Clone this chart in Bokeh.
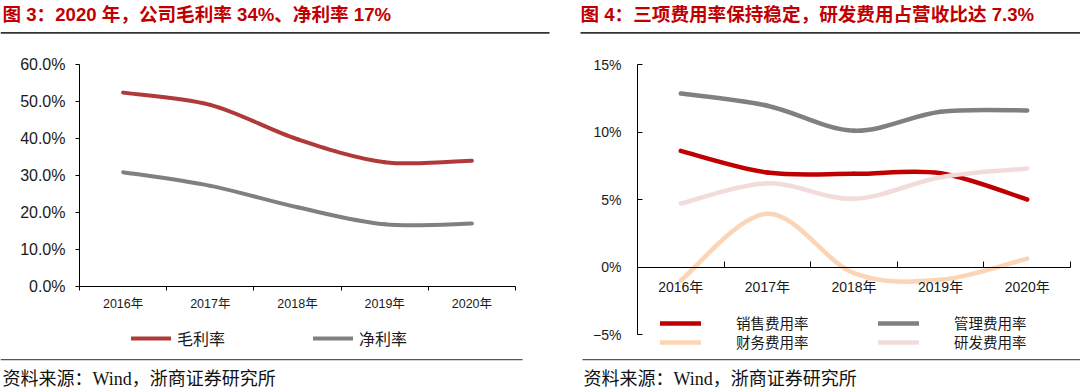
from bokeh.plotting import figure
from bokeh.models import FixedTicker, Label, BoxAnnotation, Legend, LegendItem, Range1d, ColumnDataSource
from bokeh.layouts import row
from bokeh.embed import file_html
from bokeh.resources import INLINE

# ---------------- data ----------------
years = ["2016年", "2017年", "2018年", "2019年", "2020年"]
gross_margin = [52.4, 49.1, 39.8, 33.6, 34.0]
net_margin = [30.9, 27.2, 21.4, 16.8, 17.0]
selling_rate = [8.6, 7.0, 6.9, 6.95, 5.0]
admin_rate = [12.85, 11.95, 10.1, 11.5, 11.6]
finance_rate = [-1.0, 3.95, -0.45, -0.95, 0.62]
rnd_rate = [4.7, 6.2, 5.05, 6.65, 7.3]
left_yticks = [0, 10, 20, 30, 40, 50, 60]
right_yticks = [-5, 0, 5, 10, 15]

left_title = "图 3：2020 年，公司毛利率 34%、净利率 17%"
right_title = "图 4：三项费用率保持稳定，研发费用占营收比达 7.3%"
source_text = "资料来源：Wind，浙商证券研究所"

SANS = "'Liberation Sans', 'Noto Sans CJK SC'"
CJK = "'Noto Sans CJK SC'"
SERIF = "'Liberation Serif', 'Noto Sans CJK SC'"
H = 392


def smooth_source(vals):
    xs = [i + 0.5 for i in range(len(vals))]
    n = len(vals)
    d = dict(x0=[], y0=[], x1=[], y1=[], cx0=[], cy0=[], cx1=[], cy1=[])
    for i in range(n - 1):
        a = max(i - 1, 0)
        b = min(i + 2, n - 1)
        d["x0"].append(xs[i]); d["y0"].append(vals[i])
        d["x1"].append(xs[i + 1]); d["y1"].append(vals[i + 1])
        d["cx0"].append(xs[i] + (xs[i + 1] - xs[a]) / 6)
        d["cy0"].append(vals[i] + (vals[i + 1] - vals[a]) / 6)
        d["cx1"].append(xs[i + 1] - (xs[b] - xs[i]) / 6)
        d["cy1"].append(vals[i + 1] - (vals[b] - vals[i]) / 6)
    return ColumnDataSource(d)


def add_curve(p, vals, color, width):
    return p.bezier(x0="x0", y0="y0", x1="x1", y1="y1", cx0="cx0", cy0="cy0",
                    cx1="cx1", cy1="cy1", source=smooth_source(vals),
                    line_color=color, line_width=width, line_cap="round")


def make_fig(w, px0, px1, py_top, py_bot, ylo, yhi, ncat):
    # frame covers the whole canvas; the chart box (px0..px1, py_top..py_bot) holds the data ranges
    ux = (px1 - px0) / ncat
    uy = (py_bot - py_top) / (yhi - ylo)
    xr = Range1d(-px0 / ux, ncat + (w - px1) / ux)
    yr = Range1d(ylo - (H - py_bot) / uy, yhi + py_top / uy)
    p = figure(width=w, height=H, x_range=xr, y_range=yr, title=None,
               output_backend="svg", toolbar_location=None,
               min_border_left=0, min_border_right=0, min_border_top=0, min_border_bottom=0)
    p.outline_line_color = None
    p.xgrid.visible = False
    p.ygrid.visible = False
    p.background_fill_color = "white"
    p.border_fill_color = "white"
    return p


def label(p, cx, cy, text, font, size, color, bold=False):
    p.add_layout(Label(x=cx, y=H - cy, x_units="screen", y_units="screen", text=text,
                       text_font=font, text_font_size=size,
                       text_font_style="bold" if bold else "normal",
                       text_color=color, text_baseline="middle", text_align="left"))


def rule(p, x0, x1, y0, y1, color):
    p.add_layout(BoxAnnotation(left=x0, right=x1, top=H - y0, bottom=H - y1,
                               left_units="screen", right_units="screen", top_units="screen",
                               bottom_units="screen", fill_color=color, fill_alpha=1, line_color=None))


def style_cat_axis(ax, ncat, labels, tick_in, tick_out, size, standoff):
    ax.fixed_location = 0
    ax.bounds = (0, ncat)
    ax.ticker = FixedTicker(ticks=[i + 0.5 for i in range(ncat)], minor_ticks=list(range(ncat + 1)))
    ax.major_label_overrides = {i + 0.5: y for i, y in enumerate(labels)}
    ax.major_tick_in = 0
    ax.major_tick_out = 0
    ax.minor_tick_in = tick_in
    ax.minor_tick_out = tick_out
    ax.minor_tick_line_color = "black"
    ax.axis_line_color = "black"
    ax.major_label_text_font = SANS
    ax.major_label_text_font_size = size
    ax.major_label_text_color = "#1a1a1a"
    ax.major_label_standoff = standoff


def style_val_axis(ax, ticks, overrides, tick_in, tick_out, size, standoff):
    ax.fixed_location = 0
    ax.bounds = (min(ticks), max(ticks))
    ax.ticker = FixedTicker(ticks=ticks, minor_ticks=[])
    ax.major_label_overrides = overrides
    ax.major_tick_in = tick_in
    ax.major_tick_out = tick_out
    ax.minor_tick_in = 0
    ax.minor_tick_out = 0
    ax.major_tick_line_color = "black"
    ax.axis_line_color = "black"
    ax.major_label_text_font = SANS
    ax.major_label_text_font_size = size
    ax.major_label_text_color = "#1a1a1a"
    ax.major_label_standoff = standoff


ncat = len(years)

# ---------------- left chart ----------------
LW = 560
p1 = make_fig(LW, 79, 515, 64, 286, min(left_yticks), max(left_yticks), ncat)
r_gm = add_curve(p1, gross_margin, "#B03A3A", 4)
r_nm = add_curve(p1, net_margin, "#808080", 4)
style_cat_axis(p1.xaxis[0], ncat, years, 0, 4, "12.5px", 6)
style_val_axis(p1.yaxis[0], left_yticks, {t: f"{t:.1f}%" for t in left_yticks}, 0, 4, "16px", 10)

leg1 = Legend(items=[LegendItem(label="毛利率", renderers=[r_gm]),
                     LegendItem(label="净利率", renderers=[r_nm])],
              orientation="horizontal", location=(131, H - 350),
              glyph_width=40, glyph_height=22, label_height=22, label_width=136,
              label_standoff=6, spacing=0, padding=0, margin=0,
              label_text_font=CJK, label_text_font_size="16px", label_text_color="#1a1a1a",
              border_line_color=None, background_fill_alpha=0)
p1.add_layout(leg1)

label(p1, 2, 14, left_title, SANS, "18.6px", "#C00000", bold=True)
label(p1, 2, 378, source_text, SERIF, "18px", "#111111")
rule(p1, 0, 549, 31.5, 33.2, "#333333")
rule(p1, 0, 522, 358.5, 359.7, "#555555")

# ---------------- right chart ----------------
RW = 520
p2 = make_fig(RW, 77, 510, 64, 334, min(right_yticks), max(right_yticks), ncat)
r_sell = add_curve(p2, selling_rate, "#C00000", 4.5)
r_admin = add_curve(p2, admin_rate, "#808080", 4.5)
r_fin = add_curve(p2, finance_rate, "#FBD5B5", 4.5)
r_rnd = add_curve(p2, rnd_rate, "#F2DCDB", 4.5)
style_cat_axis(p2.xaxis[0], ncat, years, 6, 0, "14px", 12)
style_val_axis(p2.yaxis[0], right_yticks,
               {t: (f"{t}%" if t >= 0 else f"\u2212{abs(t)}%") for t in right_yticks},
               5, 0, "14px", 16)

common = dict(orientation="horizontal", glyph_width=41, glyph_height=22, label_height=22,
              label_width=142, label_standoff=35, spacing=0, padding=0, margin=0,
              label_text_font=CJK, label_text_font_size="14.5px", label_text_color="#1a1a1a",
              border_line_color=None, background_fill_alpha=0)
leg2a = Legend(items=[LegendItem(label="销售费用率", renderers=[r_sell]),
                      LegendItem(label="管理费用率", renderers=[r_admin])],
               location=(100, H - 333.7), **common)
leg2b = Legend(items=[LegendItem(label="财务费用率", renderers=[r_fin]),
                      LegendItem(label="研发费用率", renderers=[r_rnd])],
               location=(100, H - 352.7), **common)
p2.add_layout(leg2a)
p2.add_layout(leg2b)

label(p2, 20, 14, right_title, SANS, "18.6px", "#C00000", bold=True)
label(p2, 23, 378, source_text, SERIF, "18px", "#111111")
rule(p2, 20, 520, 31.5, 33.2, "#333333")
rule(p2, 22, 520, 358.5, 359.7, "#555555")

layout = row(p1, p2)
open("out.html", "w").write(file_html(layout, INLINE))
